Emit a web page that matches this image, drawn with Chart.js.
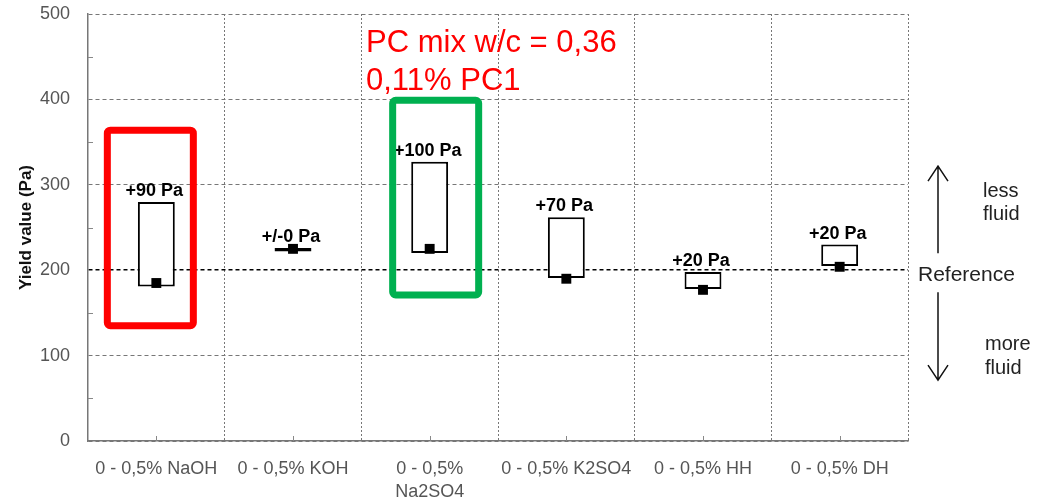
<!DOCTYPE html>
<html>
<head>
<meta charset="utf-8">
<script src="https://cdn.jsdelivr.net/npm/chart.js@4.4.0/dist/chart.umd.min.js"></script>
<style>
  html, body { margin: 0; padding: 0; background: #fff; }
  #wrap { width: 1038px; height: 501px; }
</style>
</head>
<body>
<div id="wrap"><canvas id="myChart"></canvas></div>
<script>
// data
const categories = ['0 - 0,5% NaOH', '0 - 0,5% KOH', ['0 - 0,5%', 'Na2SO4'], '0 - 0,5% K2SO4', '0 - 0,5% HH', '0 - 0,5% DH'];
const rangeLow = [181, 222, 220, 191, 178, 205];
const rangeHigh = [280, 226, 327, 262, 198, 230];
const pointValues = [185, 225, 225, 190, 177, 204];
const changeLabels = ['+90 Pa', '+/-0 Pa', '+100 Pa', '+70 Pa', '+20 Pa', '+20 Pa'];
const yTicks = [0, 100, 200, 300, 400, 500];
const referenceValue = 200;

const FONT = "'Liberation Sans', Arial, sans-serif";

// small marks: minor y ticks and category ticks
const tickMarks = {
  id: 'tickMarks',
  beforeDatasetsDraw(chart) {
    const { ctx, chartArea, scales: { x, y } } = chart;
    ctx.save();
    ctx.strokeStyle = '#888';
    ctx.lineWidth = 1;
    for (let i = 0; i < yTicks.length - 1; i++) {
      const py = Math.round(y.getPixelForValue((yTicks[i] + yTicks[i + 1]) / 2)) + 0.5;
      ctx.beginPath();
      ctx.moveTo(chartArea.left, py);
      ctx.lineTo(chartArea.left + 5, py);
      ctx.stroke();
    }
    categories.forEach((c, i) => {
      const px = Math.round(x.getPixelForValue(i)) + 0.5;
      ctx.beginPath();
      ctx.moveTo(px, chartArea.bottom);
      ctx.lineTo(px, chartArea.bottom - 5);
      ctx.stroke();
    });
    ctx.restore();
  }
};

function arrow(ctx, x, y1, y2) {
  const dir = y2 < y1 ? 1 : -1;
  ctx.beginPath();
  ctx.moveTo(x, y1);
  ctx.lineTo(x, y2);
  ctx.moveTo(x - 10, y2 + dir * 15);
  ctx.lineTo(x, y2);
  ctx.lineTo(x + 10, y2 + dir * 15);
  ctx.stroke();
}

const notes = {
  id: 'notes',
  afterDatasetsDraw(chart) {
    const { ctx, chartArea, scales: { x, y } } = chart;
    const meta = chart.getDatasetMeta(0);
    ctx.save();

    // change labels above the boxes
    ctx.fillStyle = '#000';
    ctx.font = 'bold 18px ' + FONT;
    ctx.textAlign = 'center';
    ctx.textBaseline = 'alphabetic';
    meta.data.forEach((bar, i) => {
      const top = Math.min(bar.y, bar.base);
      ctx.fillText(changeLabels[i], bar.x - 2, top - 6);
    });

    // highlight frames
    const frame = (idx, lo, hi, dx, color) => {
      const cx = x.getPixelForValue(idx) + dx;
      const t = y.getPixelForValue(hi), b = y.getPixelForValue(lo);
      ctx.strokeStyle = color;
      ctx.lineWidth = 7;
      ctx.beginPath();
      ctx.roundRect(cx - 43, t, 86, b - t, 3);
      ctx.stroke();
    };
    frame(0, 135, 364, -6, '#ff0000');
    frame(2, 171, 399, 6, '#00b050');

    // red note
    ctx.fillStyle = '#ff0000';
    ctx.font = '31px ' + FONT;
    ctx.textAlign = 'left';
    ctx.fillText('PC mix w/c = 0,36', 366, 52);
    ctx.fillText('0,11% PC1', 366, 90);

    // right-side notes
    const refY = y.getPixelForValue(referenceValue);
    const ax = chartArea.right + 30;
    ctx.strokeStyle = '#111';
    ctx.lineWidth = 1.5;
    arrow(ctx, ax, refY - 17, refY - 104);
    arrow(ctx, ax, refY + 22, refY + 110);
    ctx.fillStyle = '#222';
    ctx.textBaseline = 'middle';
    ctx.textAlign = 'left';
    ctx.font = '21px ' + FONT;
    ctx.fillText('Reference', chartArea.right + 10, refY + 5);
    ctx.font = '20px ' + FONT;
    ctx.fillText('less', ax + 45, refY - 79);
    ctx.fillText('fluid', ax + 45, refY - 56);
    ctx.fillText('more', ax + 47, refY + 74);
    ctx.fillText('fluid', ax + 47, refY + 98);
    ctx.restore();
  }
};

const ctx = document.getElementById('myChart');
new Chart(ctx, {
  type: 'bar',
  data: {
    labels: categories,
    datasets: [
      {
        type: 'bar',
        data: rangeLow.map((v, i) => [v, rangeHigh[i]]),
        backgroundColor: '#fff',
        borderColor: '#000',
        borderWidth: 2,
        borderSkipped: false,
        categoryPercentage: 1,
        barPercentage: 0.27,
        order: 2
      },
      {
        type: 'line',
        data: pointValues,
        showLine: false,
        pointStyle: 'rect',
        pointRadius: 7,
        pointHoverRadius: 7,
        backgroundColor: '#000',
        borderColor: '#000',
        borderWidth: 0,
        order: 1
      }
    ]
  },
  plugins: [tickMarks, notes],
  options: {
    responsive: true,
    maintainAspectRatio: false,
    animation: false,
    events: [],
    layout: { padding: { top: 14, right: 130, left: 0, bottom: 0 } },
    plugins: {
      legend: { display: false },
      tooltip: { enabled: false }
    },
    scales: {
      x: {
        afterFit: (s) => { s.height = 60; },
        offset: true,
        grid: {
          offset: true,
          drawTicks: false,
          color: '#777',
          lineWidth: 1
        },
        border: { display: true, color: '#777', width: 1.5, dash: [2, 2] },
        ticks: {
          color: '#555',
          padding: 17,
          maxRotation: 0,
          autoSkip: false,
          font: { family: FONT, size: 18, lineHeight: 1.25 }
        }
      },
      y: {
        min: 0,
        max: 500,
        afterFit: (s) => { s.width = 88; s.paddingTop = 0; s.paddingBottom = 0; },
        afterBuildTicks: (s) => { s.ticks = yTicks.map(v => ({ value: v })); },
        grid: {
          drawTicks: false,
          color: (c) => c.tick && c.tick.value === referenceValue ? '#000' : '#777',
          lineWidth: (c) => c.tick && c.tick.value === referenceValue ? 1.5 : 1
        },
        border: { display: true, color: '#777', width: 1.5, dash: [4, 3] },
        ticks: {
          color: '#555',
          padding: 18,
          font: { family: FONT, size: 18 }
        },
        title: {
          display: true,
          text: 'Yield value (Pa)',
          color: '#111',
          padding: { top: 16, bottom: 0 },
          font: { family: FONT, size: 17, weight: 'bold' }
        }
      }
    }
  }
});
</script>
</body>
</html>
